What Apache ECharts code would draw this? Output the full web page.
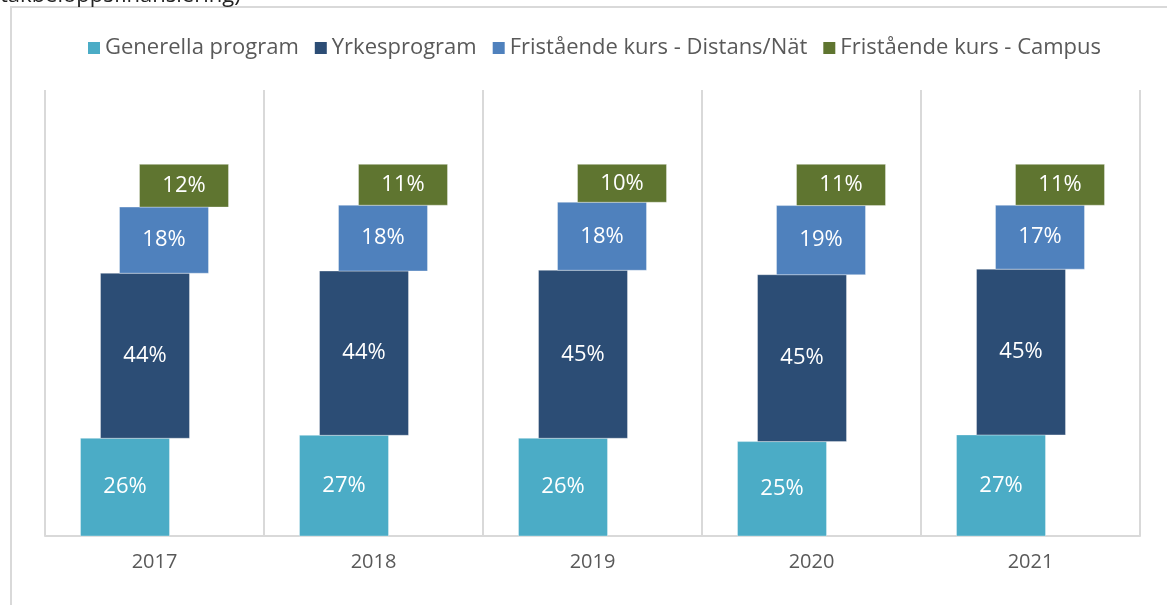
<!DOCTYPE html>
<html>
<head>
<meta charset="utf-8">
<script src="https://cdn.jsdelivr.net/npm/echarts@6/dist/echarts.min.js"></script>
<style>
html,body{margin:0;padding:0;background:#fff;}
#chart{width:1167px;height:605px;}
</style>
</head>
<body>
<div id="chart"></div>
<script>
// ---- data ----
const years = ['2017', '2018', '2019', '2020', '2021'];
const seriesNames = ['Generella program', 'Yrkesprogram', 'Fristående kurs - Distans/Nät', 'Fristående kurs - Campus'];
const generella = [26.3, 27.1, 26.3, 25.4, 27.2];
const yrkes     = [44.4, 44.2, 45.2, 44.9, 44.6];
const distans   = [17.8, 17.7, 18.3, 18.6, 17.2];
const campus    = [11.5, 11.0, 10.2, 11.1, 11.0];
const colors = ['#4BACC6', '#2C4D75', '#4F81BD', '#5F7530'];

const valueLists = [generella, yrkes, distans, campus];
// horizontal offset of each series within the category (fraction of category width)
const offsetFrac = [-29.5 / 219, -9.5 / 219, 9.5 / 219, 29.5 / 219];
const widthFrac = 89 / 219;

// build stacked [cat, base, top, value] rows
const cumulative = years.map(() => 0);
const seriesData = valueLists.map(list => list.map((v, i) => {
  const base = cumulative[i];
  cumulative[i] += v;
  return [i, base, base + v, v];
}));

const chart = echarts.init(document.getElementById('chart'));

const series = seriesNames.map((name, s) => ({
  name: name,
  type: 'custom',
  itemStyle: { color: colors[s] },
  encode: { x: 0, y: [1, 2] },
  data: seriesData[s],
  renderItem: function (params, api) {
    const cat = api.value(0);
    const p0 = api.coord([cat, api.value(1)]);
    const p1 = api.coord([cat, api.value(2)]);
    const catW = api.size([1, 0])[0];
    const w = catW * widthFrac;
    const cx = p0[0] + catW * offsetFrac[s];
    return {
      type: 'group',
      children: [
        {
          type: 'rect',
          shape: { x: cx - w / 2, y: p1[1], width: w, height: p0[1] - p1[1] },
          style: { fill: api.visual('color'), stroke: 'rgba(255,255,255,0.35)', lineWidth: 1 }
        },
        {
          type: 'text',
          style: {
            text: Math.round(api.value(3)) + '%',
            x: cx,
            y: (p0[1] + p1[1]) / 2,
            align: 'center',
            verticalAlign: 'middle',
            fill: '#ffffff',
            font: '22px "Open Sans", sans-serif'
          }
        }
      ]
    };
  }
}));

chart.setOption({
  animation: false,
  backgroundColor: '#ffffff',
  graphic: [
    {
      type: 'rect',
      shape: { x: 11, y: 7, width: 1200, height: 700 },
      style: { fill: 'none', stroke: '#d9d9d9', lineWidth: 2 },
      silent: true
    },
    {
      type: 'text',
      left: 0,
      top: -15,
      style: { text: 'takbeloppsfinansiering)', font: '22px "Open Sans", sans-serif', fill: '#222222' },
      silent: true
    }
  ],
  legend: {
    left: 83,
    top: 32,
    itemWidth: 12,
    itemHeight: 12,
    itemGap: 16,
    icon: 'rect',
    data: seriesNames,
    textStyle: { color: '#595959', fontSize: 22, fontFamily: '"Open Sans", sans-serif' }
  },
  grid: { left: 45, right: 27, top: 90, bottom: 69, containLabel: false },
  xAxis: {
    type: 'category',
    data: years,
    boundaryGap: true,
    axisLine: { show: true, lineStyle: { color: '#d9d9d9', width: 2 } },
    axisTick: { show: false },
    splitLine: { show: true, interval: 0, lineStyle: { color: '#d9d9d9', width: 2 } },
    axisLabel: { color: '#595959', fontSize: 20, margin: 16, fontFamily: '"Open Sans", sans-serif' }
  },
  yAxis: {
    type: 'value',
    min: 0,
    max: 120,
    interval: 20,
    show: false,
    splitLine: { show: false }
  },
  series: series
});
</script>
</body>
</html>
